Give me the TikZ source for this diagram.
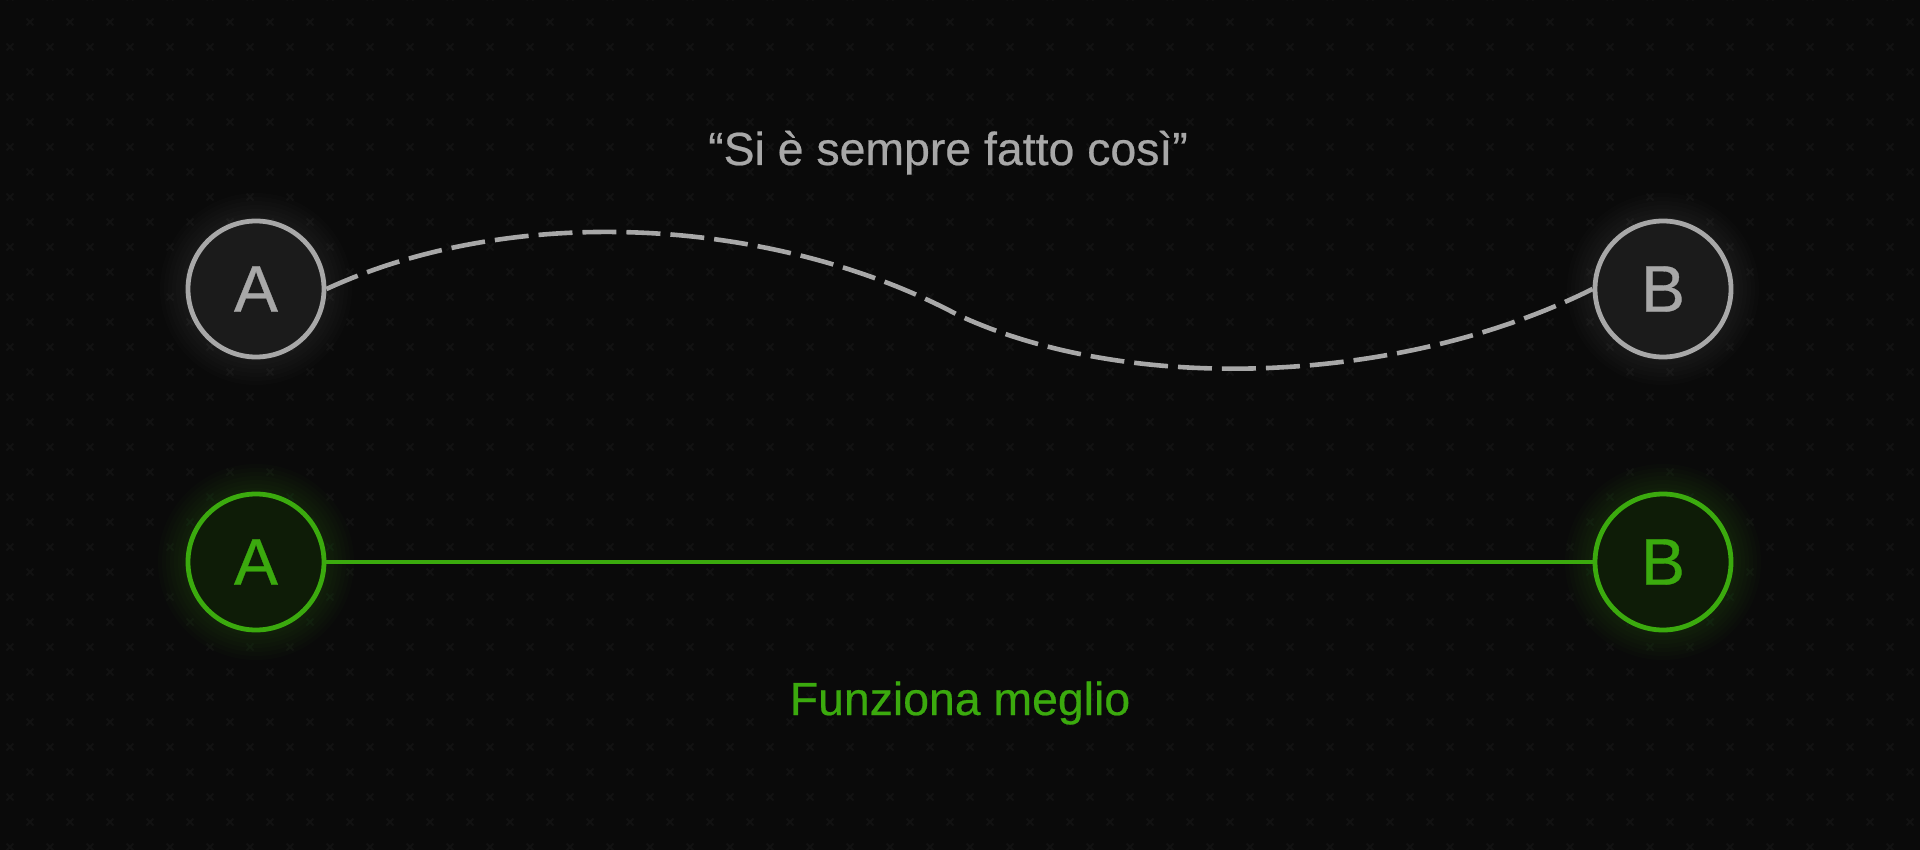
\documentclass[tikz,border=0pt]{standalone}
\usepackage{fontspec}
\setmainfont{Liberation Sans}
\definecolor{bgc}{HTML}{0A0A0A}
\definecolor{crossc}{HTML}{121212}
\definecolor{greyc}{HTML}{A8A8A8}
\definecolor{greyfill}{HTML}{1B1B1B}
\definecolor{greenc}{HTML}{3BAA0E}
\definecolor{greenfill}{HTML}{0E1C07}
\tikzset{
  greynode/.style={circle,draw=greyc,fill=greyfill,line width=2.4pt,minimum size=68pt,inner sep=0pt,
    text=greyc,font=\fontsize{33}{33}\selectfont\addfontfeature{FakeBold=0.5}},
  greennode/.style={circle,draw=greenc,fill=greenfill,line width=2.4pt,minimum size=68pt,inner sep=0pt,
    text=greenc,font=\fontsize{33}{33}\selectfont\addfontfeature{FakeBold=0.5}},
  oldpath/.style={draw=greyc,line width=2.3pt,dash pattern=on 17pt off 5pt},
  newpath/.style={draw=greenc,line width=2.3pt},
  caption/.style={font=\fontsize{23.2}{24}\selectfont\addfontfeature{FakeBold=0.5},anchor=base,inner sep=0pt},
  crossmark/.style={draw=crossc,line width=1pt},
}
\begin{document}
\begin{tikzpicture}[x=0.5pt,y=-0.5pt]
\fill[bgc] (0,0) rectangle (1920,850);
\useasboundingbox (0,0) rectangle (1920,850);
% background pattern
\foreach \j in {0,...,17}{
  \foreach \i in {0,...,48}{
    \pgfmathsetmacro{\cx}{10+40*\i}
    \pgfmathsetmacro{\cy}{47+50*\j-50}
    \draw[crossmark] (\cx-3.5,\cy-3.5) -- (\cx+3.5,\cy+3.5) (\cx-3.5,\cy+3.5) -- (\cx+3.5,\cy-3.5);
    \pgfmathsetmacro{\dx}{30+40*\i-40}
    \pgfmathsetmacro{\dy}{22+50*\j}
    \draw[crossmark] (\dx-3.5,\dy-3.5) -- (\dx+3.5,\dy+3.5) (\dx-3.5,\dy+3.5) -- (\dx+3.5,\dy-3.5);
  }
}
% glows
\foreach \p in {(256,289),(1663,289)}{
  \foreach \r in {96,92,...,72}{
    \fill[white,opacity=0.01] \p circle[radius=\r];
  }
}
\foreach \p in {(256,562),(1663,562)}{
  \foreach \r in {98,94,...,72}{
    \fill[greenc,opacity=0.022] \p circle[radius=\r];
  }
}
% nodes
\node[greynode] (tA) at (256,289) {A};
\node[greynode] (tB) at (1663,289) {B};
\node[greennode] (bA) at (256,562) {A};
\node[greennode] (bB) at (1663,562) {B};
% connectors
\coordinate (mid) at (958,315);
\draw[oldpath] (tA.east) .. controls (520,200) and (780,220) .. (mid)
  .. controls (1130,395) and (1400,385) .. (tB.west);
\draw[newpath] (bA.east) -- (bB.west);
% captions
\node[caption,text=greyc] (topcap) at (948,165) {“Si è sempre fatto così”};
\node[caption,text=greenc] (botcap) at (960,715) {Funziona meglio};
\end{tikzpicture}
\end{document}
